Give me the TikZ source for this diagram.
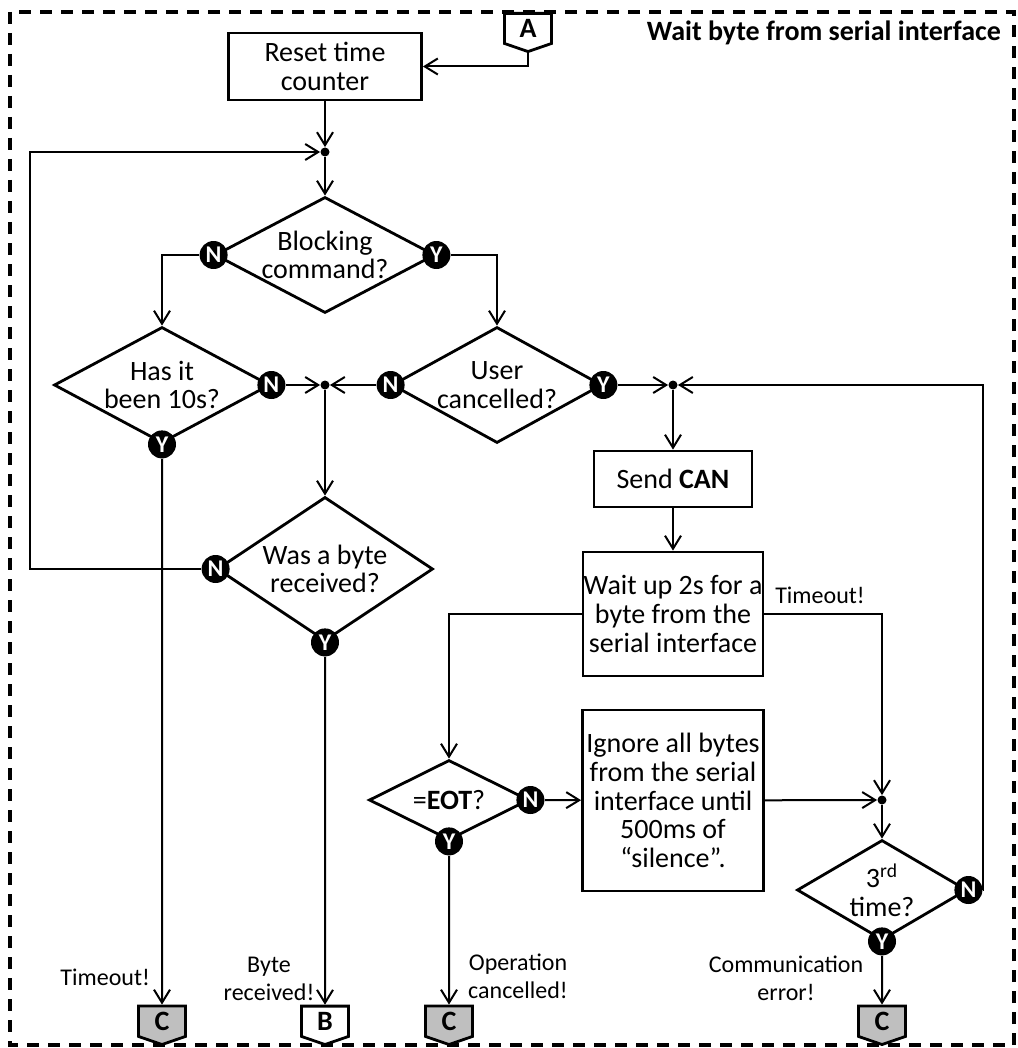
\documentclass[tikz,border=0pt]{standalone}
\usepackage{fontspec}
\setmainfont{Carlito}
\usetikzlibrary{shapes.geometric, shapes.symbols, arrows.meta}

\begin{document}
\begin{tikzpicture}[
  x=0.5pt, y=-0.5pt,
  font=\fontsize{14}{14.3}\selectfont,
  >={Straight Barb[length=6.5pt,width=8pt]},
  line/.style={line width=1pt},
  box/.style={rectangle, draw, line width=1.4pt, align=center, inner sep=0pt},
  dec/.style={diamond, draw, line width=1.4pt, align=center, inner sep=-6pt},
  yn/.style={circle, fill=black, text=white, inner sep=0pt, minimum size=14pt,
    font=\bfseries\fontsize{12}{12}\selectfont},
  dot/.style={circle, fill=black, inner sep=0pt, minimum size=4.5pt},
  offpg/.style={signal, signal to=south, signal pointer angle=142, draw,
    line width=1.4pt, inner sep=0pt, minimum width=23.5pt, minimum height=16.5pt,
    font=\bfseries\fontsize{14}{14}\selectfont},
  goto/.style={offpg, fill=black!25},
  lbl/.style={align=center, font=\fontsize{12}{13.8}\selectfont}
]
\useasboundingbox (0,0) rectangle (1017,1048);
\draw[line width=1.8pt, dash pattern=on 6pt off 4.5pt] (10,12) rectangle (1014,1045);
\node[font=\bfseries\fontsize{14}{14.3}\selectfont, anchor=east] (title) at (1008,33) {Wait byte from serial interface};

\node[offpg, anchor=north] (A) at (528,12) {A};
\node[box, minimum width=96.5pt, minimum height=33.5pt] (reset) at (325,66.5) {Reset time\\counter};
\node[dot] (d1) at (325,152) {};
\node[dec, minimum width=110pt, minimum height=58pt, aspect=1.9] (block) at (325,255) {Blocking\\command?};
\node[dec, minimum width=108pt, minimum height=58pt, aspect=1.86] (hasit) at (162,385) {Has it\\been 10s?};
\node[dec, minimum width=105pt, minimum height=58pt, aspect=1.81] (user) at (497,385) {User\\cancelled?};
\node[dot] (d2) at (325,385) {};
\node[dot] (d3) at (673,385) {};
\node[dec, minimum width=108pt, minimum height=72pt, aspect=1.5] (byte) at (325,569) {Was a byte\\received?};
\node[box, minimum width=79pt, minimum height=28pt] (send) at (673,479) {Send \textbf{CAN}};
\node[box, minimum width=90pt, minimum height=62pt] (waitb) at (673,614) {Wait up 2s for a\\byte from the\\serial interface};
\node[dec, minimum width=80pt, minimum height=40pt, aspect=2] (eot) at (449,800) {=\textbf{EOT}?};
\node[box, minimum width=90.5pt, minimum height=90.5pt] (ignore) at (673,800.5) {Ignore all bytes\\from the serial\\interface until\\500ms of\\“silence”.};
\node[dot] (d4) at (882,800) {};
\node[dec, minimum width=85pt, minimum height=50pt, aspect=1.7] (third) at (882,890) {3\textsuperscript{rd}\\time?};

\node[goto, anchor=south] (c1) at (162,1046) {C};
\node[offpg, anchor=south] (bB) at (325,1046) {B};
\node[goto, anchor=south] (c2) at (449,1046) {C};
\node[goto, anchor=south] (c3) at (882,1046) {C};

\node[yn] (nB) at (block.west) {N};
\node[yn] (yB) at (block.east) {Y};
\node[yn] (nH) at (hasit.east) {N};
\node[yn] (yH) at (hasit.south) {Y};
\node[yn] (nU) at (user.west) {N};
\node[yn] (yU) at (user.east) {Y};
\node[yn] (nW) at (byte.west) {N};
\node[yn] (yW) at (byte.south) {Y};
\node[yn] (nE) at (eot.east) {N};
\node[yn] (yE) at (eot.south) {Y};
\node[yn] (nT) at (third.east) {N};
\node[yn] (yT) at (third.south) {Y};

\coordinate (lloop) at (30,152);
\coordinate (rloop) at (983,385);

\draw[line,->] (A.south) |- (reset.east);
\draw[line,->] (reset) -- (d1);
\draw[line,->] (d1) -- (block.north);
\draw[line,->] (nB) -| (hasit.north);
\draw[line,->] (yB) -| (user.north);
\draw[line,->] (nH) -- (d2);
\draw[line,->] (nU) -- (d2);
\draw[line,->] (d2) -- (byte.north);
\draw[line,->] (yU) -- (d3);
\draw[line,->] (d3) -- (send);
\draw[line,->] (send) -- (waitb);
\draw[line,->] (waitb.west) -| (eot.north);
\draw[line,->] (waitb.east) -| (d4);
\draw[line,->] (nE) -- (ignore);
\draw[line,->] (ignore) -- (d4);
\draw[line,->] (d4) -- (third.north);
\draw[line,->] (nT) -| (rloop) -- (d3);
\draw[line,->] (nW) -| (lloop) -- (d1);
\draw[line,->] (yH) -- (c1);
\draw[line,->] (yW) -- (bB);
\draw[line,->] (yE) -- (c2);
\draw[line,->] (yT) -- (c3);

\node[lbl, anchor=east] (lto) at (157,977) {Timeout!};
\node[lbl] (lbyte) at (269,979) {Byte\\received!};
\node[lbl] (lcan) at (518,976) {Operation\\cancelled!};
\node[lbl] (lcom) at (786,978) {Communication\\error!};
\node[lbl] (lwto) at (820,595) {Timeout!};
\end{tikzpicture}
\end{document}
